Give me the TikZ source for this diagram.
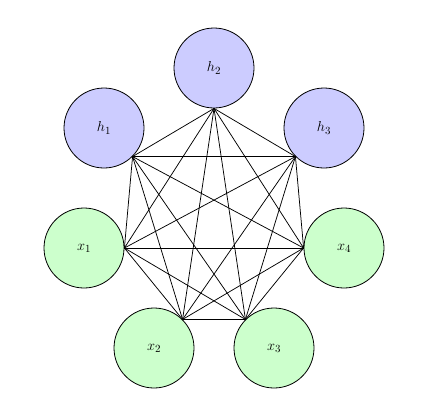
\documentclass[tikz,border=0pt]{standalone}
\begin{document}
\begin{tikzpicture}[x=1pt,y=-1pt,
  unit/.style={circle,draw,line width=0.8pt,minimum size=80pt,inner sep=0pt,font=\fontsize{15}{18}\selectfont},
  hid/.style={unit,fill=blue!20},
  vis/.style={unit,fill=green!20},
  link/.style={line width=0.75pt}]
\useasboundingbox (0,0) rectangle (430,418);
\node[hid] (h1) at (104,128) {$h_1$};
\node[hid] (h2) at (214,68) {$h_2$};
\node[hid] (h3) at (324,128) {$h_3$};
\node[vis] (x1) at (84,248) {$x_1$};
\node[vis] (x4) at (344,248) {$x_4$};
\node[vis] (x2) at (154,348) {$x_2$};
\node[vis] (x3) at (274,348) {$x_3$};
\coordinate (a1) at (h1.-45);
\coordinate (a2) at (h2.-90);
\coordinate (a3) at (h3.-135);
\coordinate (a4) at (x4.180);
\coordinate (a5) at (x3.135);
\coordinate (a6) at (x2.45);
\coordinate (a7) at (x1.0);
\foreach \i in {1,...,7}{
  \foreach \j in {1,...,7}{
    \ifnum\i<\j \draw[link] (a\i) -- (a\j); \fi
  }
}
\end{tikzpicture}
\end{document}
